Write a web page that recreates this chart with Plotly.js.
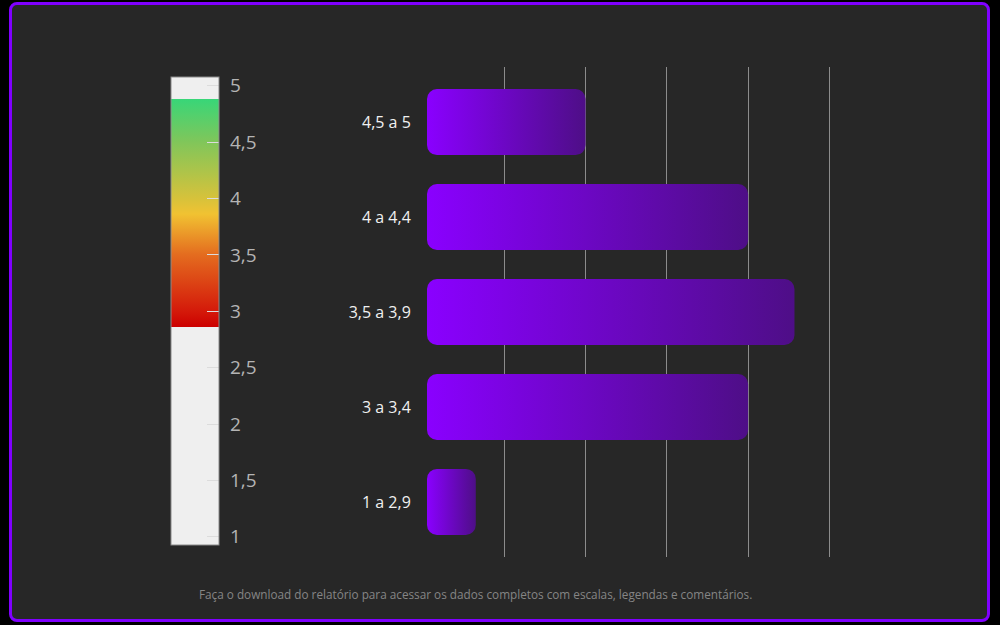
<!DOCTYPE html>
<html>
<head>
<meta charset="utf-8">
<script src="https://cdn.plot.ly/plotly-3.0.1.min.js"></script>
<style>
  html, body { margin:0; padding:0; background:#000; width:1000px; height:625px; overflow:hidden; }
  #frame { position:absolute; left:9px; top:2px; width:975px; height:614px; border:3px solid #8000ff; border-radius:8px; background:#272727; }
  #chart { position:absolute; left:0; top:0; width:1000px; height:625px; }
</style>
</head>
<body>
<div id="frame"></div>
<div id="chart"></div>
<script>
// Categories (bottom to top) and bar lengths
const categories = ["1 a 2,9", "3 a 3,4", "3,5 a 3,9", "4 a 4,4", "4,5 a 5"];
const values = [0.6, 3.95, 4.52, 3.95, 1.95];

// Color scale legend (score scale 1 to 5)
const scaleMin = 0.925;
const scaleMax = 5.075;
const scaleStops = [scaleMin, 2.86, 2.86, 3.0, 3.5, 3.86, 4.0, 4.5, 4.88, 4.88, scaleMax];
const scaleColors = ["#efefef", "#efefef", "#cc0000", "#d41a0a", "#e46c1f", "#f1c232", "#d6c23b", "#80c65a", "#38d678", "#efefef", "#efefef"];

const footer = "Faça o download do relatório para acessar os dados completos com escalas, legendas e comentários.";

const colorscale = scaleStops.map((v, i) => [(v - scaleMin) / (scaleMax - scaleMin), scaleColors[i]]);

// plot area geometry (pixels)
const PL = 427, PR = 900, PT = 67, PB = 557;
const px2x = px => (px - PL) / (PR - PL);
const px2y = py => (PB - py) / (PB - PT);
const CB_LEFT = 171, CB_THICK = 48;

const barTrace = {
  type: "bar",
  orientation: "h",
  y: categories,
  x: values,
  marker: { color: "#8a00ff", cornerradius: 10, line: { width: 0 } },
  width: 0.695,
  hoverinfo: "skip",
  showlegend: false
};

const scaleTrace = {
  type: "scatter",
  mode: "markers",
  x: [0],
  y: [categories[0]],
  marker: {
    size: 0.1,
    opacity: 0,
    color: [3],
    cmin: scaleMin,
    cmax: scaleMax,
    colorscale: colorscale,
    showscale: true,
    colorbar: {
      x: px2x(CB_LEFT),
      xanchor: "left",
      y: px2y(77.3),
      yanchor: "top",
      len: 467.7,
      lenmode: "pixels",
      thickness: CB_THICK,
      thicknessmode: "pixels",
      xpad: 0,
      ypad: 0,
      outlinewidth: 1,
      outlinecolor: "#8a8a8a",
      tickmode: "linear",
      tick0: 1,
      dtick: 0.5,
      ticks: "inside",
      ticklen: 12,
      tickwidth: 1,
      tickcolor: "#dcdcdc",
      tickfont: { family: "Open Sans", size: 19, color: "#b4b4b4" }
    }
  },
  hoverinfo: "skip",
  showlegend: false
};

const layout = {
  width: 1000,
  height: 625,
  paper_bgcolor: "rgba(0,0,0,0)",
  plot_bgcolor: "rgba(0,0,0,0)",
  separators: ",.",
  margin: { l: PL, r: 1000 - PR, t: PT, b: 625 - PB, pad: 0 },
  font: { family: "Open Sans", color: "#eeeeee" },
  xaxis: {
    range: [0, 473 / 81.3],
    tickmode: "linear",
    tick0: 0.95,
    dtick: 1,
    showticklabels: false,
    ticks: "",
    showgrid: true,
    gridcolor: "#8c8c8c",
    gridwidth: 1,
    zeroline: false,
    showline: false,
    fixedrange: true
  },
  yaxis: {
    type: "category",
    range: [-0.58, 4.58],
    showgrid: false,
    zeroline: false,
    showline: false,
    ticks: "outside",
    ticklen: 12,
    tickcolor: "rgba(0,0,0,0)",
    tickfont: { family: "Open Sans", size: 16, color: "#f0f0f0" },
    fixedrange: true
  },
  annotations: [{
    xref: "paper", yref: "paper",
    x: px2x(475), y: px2y(594),
    xanchor: "center", yanchor: "middle",
    text: footer,
    showarrow: false,
    font: { family: "Open Sans", size: 11.75, color: "#858585" }
  }]
};

Plotly.newPlot("chart", [barTrace, scaleTrace], layout, { displayModeBar: false, staticPlot: true }).then(gd => {
  const svg = gd.querySelector("svg.main-svg");
  const ns = "http://www.w3.org/2000/svg";
  let defs = svg.querySelector("defs");
  if (!defs) { defs = document.createElementNS(ns, "defs"); svg.insertBefore(defs, svg.firstChild); }
  const grad = document.createElementNS(ns, "linearGradient");
  grad.setAttribute("id", "barGrad");
  grad.setAttribute("x1", "0"); grad.setAttribute("y1", "0");
  grad.setAttribute("x2", "1"); grad.setAttribute("y2", "0");
  [["0", "#8a00ff"], ["1", "#4e0e87"]].forEach(([o, c]) => {
    const s = document.createElementNS(ns, "stop");
    s.setAttribute("offset", o); s.setAttribute("stop-color", c);
    grad.appendChild(s);
  });
  defs.appendChild(grad);
  // round all four corners of each bar drawn by Plotly
  gd.querySelectorAll(".barlayer .bars path").forEach(p => {
    const b = p.getBBox();
    const r = Math.min(10, b.width / 2, b.height / 2);
    const x0 = b.x, y0 = b.y, x1 = b.x + b.width, y1 = b.y + b.height;
    const d = `M${x0 + r},${y0}H${x1 - r}A${r},${r} 0 0 1 ${x1},${y0 + r}V${y1 - r}A${r},${r} 0 0 1 ${x1 - r},${y1}H${x0 + r}A${r},${r} 0 0 1 ${x0},${y1 - r}V${y0 + r}A${r},${r} 0 0 1 ${x0 + r},${y0}Z`;
    p.setAttribute("d", d);
    p.style.fill = "url(#barGrad)";
  });
  // colorbar: ticks inside the bar at its right edge, labels a little further right
  const cbRight = CB_LEFT + CB_THICK;
  gd.querySelectorAll(".colorbar path").forEach(p => {
    if (!Array.from(p.classList).some(c => /tick$/.test(c))) return;
    const rc = p.getBoundingClientRect();
    const dx = cbRight - rc.right;
    if (Math.abs(dx) > 0.5) {
      p.setAttribute("transform", (p.getAttribute("transform") || "") + ` translate(${dx},0)`);
    }
  });
  gd.querySelectorAll(".colorbar text").forEach(t => {
    if (!t.textContent.trim()) return;
    const rc = t.getBoundingClientRect();
    const dx = 230 - rc.left;
    t.setAttribute("x", (parseFloat(t.getAttribute("x")) || 0) + dx);
  });
});
</script>
</body>
</html>
